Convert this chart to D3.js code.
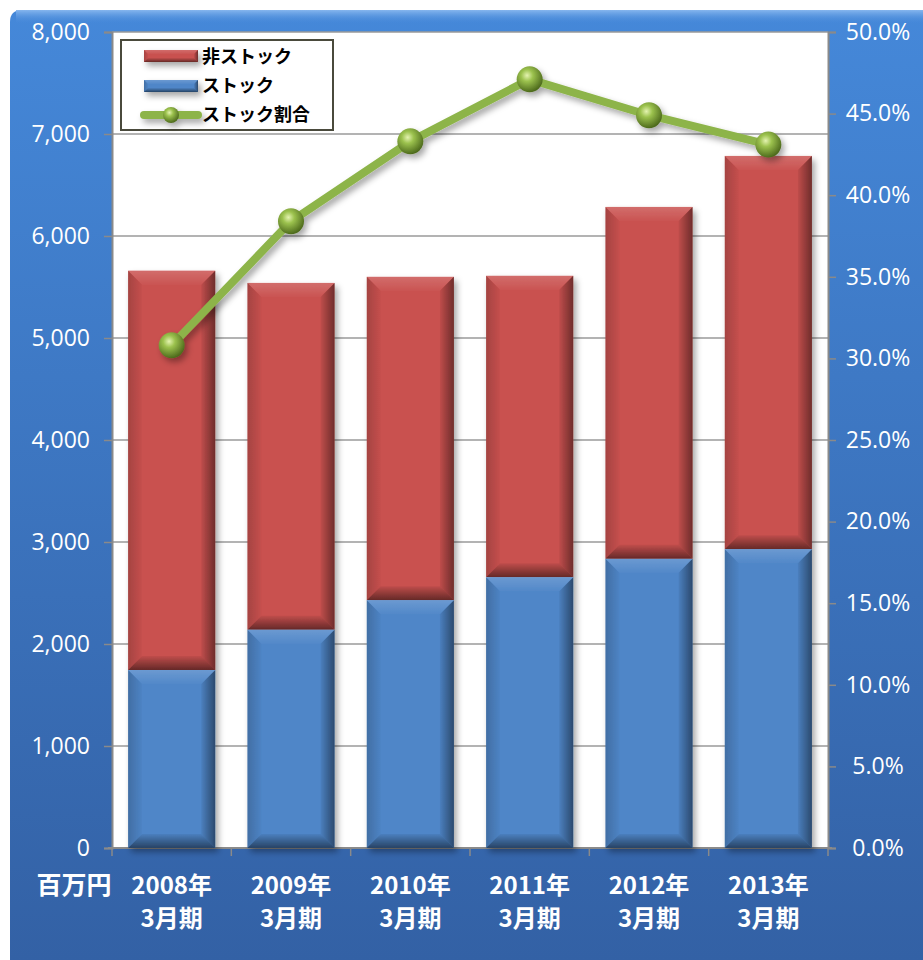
<!DOCTYPE html>
<html lang="ja">
<head>
    <meta charset="UTF-8">
    <title>ストック割合</title>
    <script src="https://cdn.jsdelivr.net/npm/d3@7"></script>
    <style>
        body { margin: 0; background: #fff; }
        text { font-family: "Open Sans", "Noto Sans", sans-serif; }
        .cat, .unit, .leg { font-family: "Noto Sans CJK JP", sans-serif; font-weight: bold; }
    </style>
</head>
<body>
<script type="application/javascript">

    let w = 923, h = 960;

    // データ
    let years = ['2008年', '2009年', '2010年', '2011年', '2012年', '2013年'];
    let totals = [5660, 5540, 5600, 5610, 6285, 6785];   // 合計 (百万円)
    let stock = [1745, 2140, 2430, 2655, 2835, 2930];    // ストック
    let ratio = [30.8, 38.4, 43.3, 47.1, 44.9, 43.1];    // ストック割合 (%)
    let leftTicks = [0, 1000, 2000, 3000, 4000, 5000, 6000, 7000, 8000];
    let rightTicks = [0, 5, 10, 15, 20, 25, 30, 35, 40, 45, 50];
    let legendNames = ['非ストック', 'ストック', 'ストック割合'];

    let plot = { left: 112, right: 828, top: 32, bottom: 848 };

    let svg = d3.select('body')
        .append('svg')
        .attr('width', w)
        .attr('height', h);

    let defs = svg.append('defs');

    function grad(id, x2, y2, stops) {
        let g = defs.append('linearGradient').attr('id', id)
            .attr('x1', 0).attr('y1', 0).attr('x2', x2).attr('y2', y2);
        stops.forEach(s => g.append('stop').attr('offset', s[0]).attr('stop-color', s[1]).attr('stop-opacity', s[2]));
    }

    grad('bg', 0, 1, [['0%', '#4588d9', 1], ['100%', '#3361a5', 1]]);
    grad('tophi', 0, 1, [['0%', '#86b6ee', 1], ['100%', '#4588d9', 0]]);
    // ベベル面
    grad('fTop', 0, 1, [['0%', '#fff', 0.16], ['100%', '#fff', 0.02]]);
    grad('fBot', 0, 1, [['0%', '#000', 0.05], ['100%', '#000', 0.5]]);
    grad('fLeft', 1, 0, [['0%', '#000', 0.18], ['100%', '#000', 0.02]]);
    grad('fRight', 1, 0, [['0%', '#000', 0.05], ['100%', '#000', 0.45]]);

    let ball = defs.append('radialGradient').attr('id', 'ball')
        .attr('cx', '40%').attr('cy', '35%').attr('r', '65%');
    ball.append('stop').attr('offset', '0%').attr('stop-color', '#e4f3b0');
    ball.append('stop').attr('offset', '35%').attr('stop-color', '#9cc24e');
    ball.append('stop').attr('offset', '100%').attr('stop-color', '#4d6a1c');

    let shadow = defs.append('filter').attr('id', 'shadow')
        .attr('x', '-20%').attr('y', '-20%').attr('width', '150%').attr('height', '150%');
    shadow.append('feDropShadow').attr('dx', 3).attr('dy', 4).attr('stdDeviation', 3)
        .attr('flood-color', '#000').attr('flood-opacity', 0.35);

    // 背景
    svg.append('path')
        .attr('d', 'M10,' + h + ' L10,22 Q10,10 22,10 L' + w + ',10 L' + w + ',' + h + ' Z')
        .attr('fill', 'url(#bg)');
    svg.append('rect').attr('x', 16).attr('y', 10).attr('width', w - 16).attr('height', 14)
        .attr('fill', 'url(#tophi)');

    svg.append('rect')
        .attr('x', plot.left).attr('y', plot.top)
        .attr('width', plot.right - plot.left).attr('height', plot.bottom - plot.top)
        .attr('fill', '#fff');

    let x = d3.scaleBand().domain(years).range([plot.left, plot.right]).paddingInner(0.27).paddingOuter(0.135);
    let y = d3.scaleLinear().domain([0, 8000]).range([plot.bottom, plot.top]);
    let y2 = d3.scaleLinear().domain([0, 50]).range([plot.bottom, plot.top]);

    // グリッド線
    svg.append('g').selectAll('line')
        .data(leftTicks.slice(1))
        .enter().append('line')
        .attr('x1', plot.left).attr('x2', plot.right)
        .attr('y1', d => y(d)).attr('y2', d => y(d))
        .attr('stroke', '#9a9a9a').attr('stroke-width', 1.5);

    // 左軸
    let leftAxis = svg.append('g')
        .attr('transform', 'translate(' + plot.left + ',0)')
        .call(d3.axisLeft(y).tickValues(leftTicks).tickSize(8).tickPadding(14).tickFormat(d3.format(',')));
    leftAxis.select('.domain').attr('stroke', '#8a8a8a').attr('stroke-width', 2);
    leftAxis.selectAll('.tick line').attr('stroke', '#8a8a8a').attr('stroke-width', 1.5);
    leftAxis.selectAll('text').attr('fill', '#fff').attr('font-size', 23)
        .attr('font-family', '"Open Sans", sans-serif');

    // 右軸
    let rightAxis = svg.append('g')
        .attr('transform', 'translate(' + plot.right + ',0)')
        .call(d3.axisRight(y2).tickValues(rightTicks).tickSize(8).tickFormat(d => d3.format('.1f')(d) + '%'));
    rightAxis.select('.domain').attr('stroke', '#8a8a8a').attr('stroke-width', 2);
    rightAxis.selectAll('.tick line').attr('stroke', '#8a8a8a').attr('stroke-width', 1.5);
    rightAxis.selectAll('text').attr('fill', '#fff').attr('font-size', 23)
        .attr('x', 50).attr('text-anchor', 'middle')
        .attr('font-family', '"Open Sans", sans-serif');

    // 下軸
    let bottomAxis = svg.append('g')
        .attr('transform', 'translate(0,' + plot.bottom + ')');
    bottomAxis.append('line')
        .attr('x1', plot.left - 4).attr('x2', plot.right + 4)
        .attr('stroke', '#8a8a8a').attr('stroke-width', 2);
    let step = x.step();
    bottomAxis.selectAll('line.tk')
        .data(d3.range(years.length + 1))
        .enter().append('line').attr('class', 'tk')
        .attr('x1', i => plot.left + i * step).attr('x2', i => plot.left + i * step)
        .attr('y1', 0).attr('y2', 8)
        .attr('stroke', '#8a8a8a').attr('stroke-width', 1.5);

    // ベベル付き棒
    function bevel(g, bx, by, bw, bh, color, depth) {
        let d = Math.min(depth, bh / 2);
        g.append('rect').attr('x', bx).attr('y', by).attr('width', bw).attr('height', bh).attr('fill', color);
        let faces = [
            { p: [[bx, by], [bx + bw, by], [bx + bw - d, by + d], [bx + d, by + d]], f: 'fTop' },
            { p: [[bx + d, by + bh - d], [bx + bw - d, by + bh - d], [bx + bw, by + bh], [bx, by + bh]], f: 'fBot' },
            { p: [[bx, by], [bx + d, by + d], [bx + d, by + bh - d], [bx, by + bh]], f: 'fLeft' },
            { p: [[bx + bw - d, by + d], [bx + bw, by], [bx + bw, by + bh], [bx + bw - d, by + bh - d]], f: 'fRight' }
        ];
        g.selectAll(null).data(faces).enter().append('polygon')
            .attr('points', f => f.p.map(q => q.join(',')).join(' '))
            .attr('fill', f => 'url(#' + f.f + ')');
    }

    let bars = svg.append('g').attr('filter', 'url(#shadow)');
    years.forEach((yr, i) => {
        let g = bars.append('g');
        bevel(g, x(yr), y(totals[i]), x.bandwidth(), y(stock[i]) - y(totals[i]), '#c9514f', 14);
        bevel(g, x(yr), y(stock[i]), x.bandwidth(), y(0) - y(stock[i]), '#4f86c8', 14);
    });

    // ストック割合の折れ線
    let line = d3.line()
        .x((d, i) => x(years[i]) + x.bandwidth() / 2)
        .y(d => y2(d));

    let lg = svg.append('g').attr('filter', 'url(#shadow)');
    lg.append('path')
        .attr('d', line(ratio))
        .attr('fill', 'none')
        .attr('stroke', '#8db44a')
        .attr('stroke-width', 8)
        .attr('stroke-linejoin', 'round');
    lg.selectAll('circle')
        .data(ratio)
        .enter().append('circle')
        .attr('cx', (d, i) => x(years[i]) + x.bandwidth() / 2)
        .attr('cy', d => y2(d))
        .attr('r', 13)
        .attr('fill', 'url(#ball)');

    // 凡例
    let legend = svg.append('g');
    legend.append('rect')
        .attr('x', 121).attr('y', 40).attr('width', 212).attr('height', 90)
        .attr('fill', '#fff').attr('stroke', '#4a4a3c').attr('stroke-width', 2);
    let sw = legend.append('g').attr('filter', 'url(#shadow)');
    bevel(sw, 144, 50, 54, 12, '#c9514f', 4);
    bevel(sw, 144, 80, 54, 12, '#4f86c8', 4);
    sw.append('line').attr('x1', 144).attr('x2', 198).attr('y1', 115).attr('y2', 115)
        .attr('stroke', '#8db44a').attr('stroke-width', 8).attr('stroke-linecap', 'round');
    sw.append('circle').attr('cx', 171).attr('cy', 115).attr('r', 8).attr('fill', 'url(#ball)');
    legend.selectAll('text.leg')
        .data(legendNames)
        .enter().append('text').attr('class', 'leg')
        .attr('x', 202).attr('y', (d, i) => 57 + i * 29)
        .attr('dy', '0.35em')
        .attr('font-size', 18).attr('fill', '#000')
        .text(d => d);

    // カテゴリラベル
    let cats = svg.append('g');
    years.forEach(yr => {
        let cx = x(yr) + x.bandwidth() / 2;
        let t = cats.append('text').attr('class', 'cat')
            .attr('text-anchor', 'middle').attr('fill', '#fff').attr('font-size', 24);
        t.append('tspan').attr('x', cx).attr('y', 894).text(yr);
        t.append('tspan').attr('x', cx).attr('y', 927).text('3月期');
    });

    svg.append('text').attr('class', 'unit')
        .attr('x', 74).attr('y', 894)
        .attr('text-anchor', 'middle').attr('fill', '#fff').attr('font-size', 25)
        .text('百万円');

</script>
</body>
</html>
